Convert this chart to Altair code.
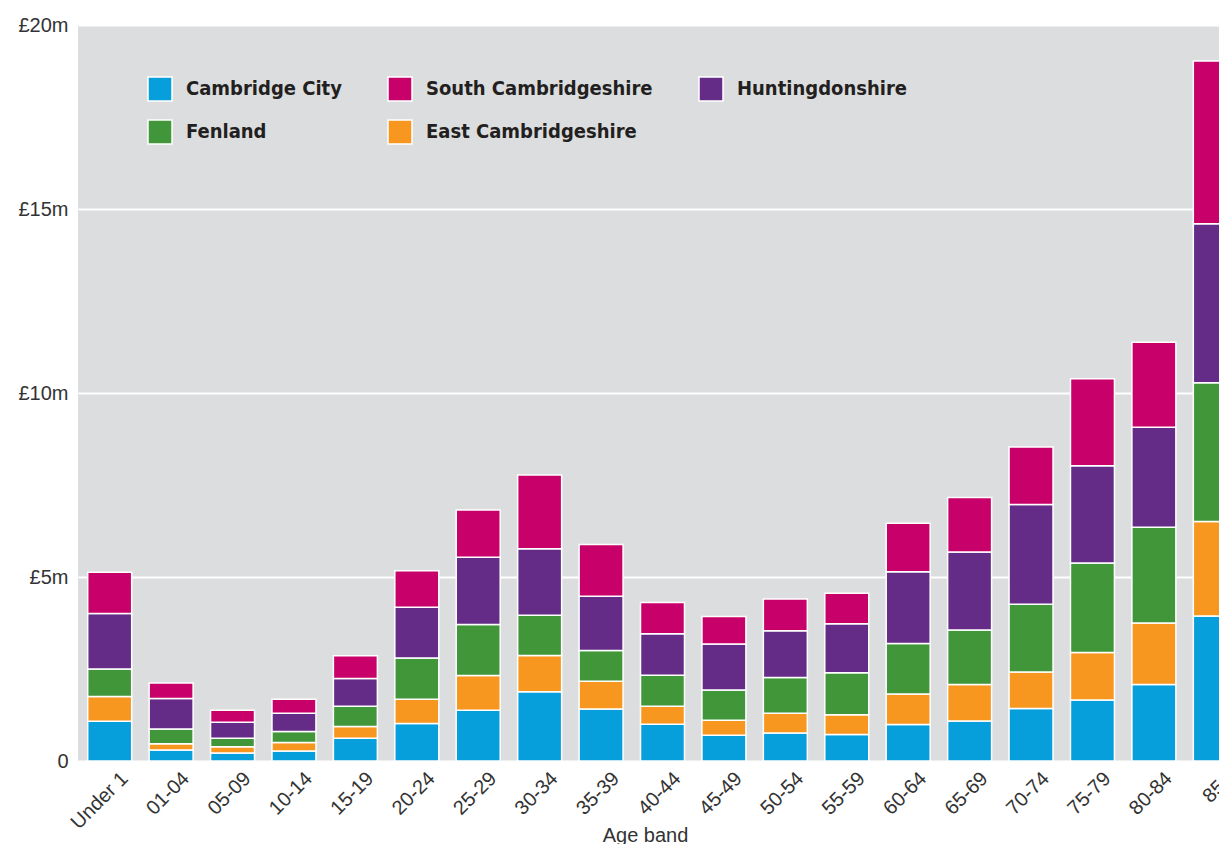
import altair as alt
import pandas as pd

age_bands = ["Under 1", "01-04", "05-09", "10-14", "15-19", "20-24", "25-29", "30-34",
             "35-39", "40-44", "45-49", "50-54", "55-59", "60-64", "65-69", "70-74",
             "75-79", "80-84", "85+"]

# values in £ million
cambridge_city = [1.08, 0.30, 0.22, 0.27, 0.62, 1.02, 1.38, 1.88, 1.41, 1.00, 0.70, 0.76, 0.72, 0.99, 1.09, 1.43, 1.66, 2.08, 3.94]
east_cambridgeshire = [0.67, 0.17, 0.17, 0.23, 0.32, 0.66, 0.94, 0.99, 0.76, 0.49, 0.41, 0.54, 0.54, 0.83, 0.99, 0.99, 1.29, 1.67, 2.57]
fenland = [0.75, 0.40, 0.23, 0.30, 0.55, 1.12, 1.39, 1.09, 0.83, 0.84, 0.82, 0.97, 1.14, 1.37, 1.48, 1.84, 2.43, 2.60, 3.77]
huntingdonshire = [1.51, 0.83, 0.43, 0.50, 0.75, 1.38, 1.83, 1.81, 1.48, 1.13, 1.25, 1.27, 1.33, 1.95, 2.12, 2.71, 2.64, 2.72, 4.32]
south_cambridgeshire = [1.12, 0.42, 0.33, 0.38, 0.62, 0.99, 1.28, 2.00, 1.40, 0.85, 0.75, 0.86, 0.83, 1.32, 1.48, 1.56, 2.37, 2.31, 4.42]

series = [
    ("Cambridge City", cambridge_city),
    ("East Cambridgeshire", east_cambridgeshire),
    ("Fenland", fenland),
    ("Huntingdonshire", huntingdonshire),
    ("South Cambridgeshire", south_cambridgeshire),
]

legend_order = ["Cambridge City", "South Cambridgeshire", "Huntingdonshire", "Fenland", "East Cambridgeshire"]
legend_colors = ["#069fdb", "#c8006a", "#642c87", "#41963a", "#f7971f"]

rows = []
for stack_i, (name, vals) in enumerate(series):
    for band, v in zip(age_bands, vals):
        rows.append({"age": band, "district": name, "value": v, "stack_order": stack_i})
df = pd.DataFrame(rows)

tick_font = "Liberation Sans, Arial, sans-serif"
legend_font = "Liberation Sans Narrow, DejaVu Sans Condensed, sans-serif"

chart = alt.Chart(df).mark_bar(stroke="white", strokeWidth=1.5).encode(
    x=alt.X("age:N", sort=age_bands,
            scale=alt.Scale(paddingInner=0.284, paddingOuter=0.158, range=[0, 1169]),
            axis=alt.Axis(title="Age band", labelAngle=-45, labelAlign="right",
                          labelBaseline="top", labelPadding=7, labelOffset=8,
                          labelFontSize=20, labelFont=tick_font, labelColor="#333333",
                          domain=False, ticks=False, grid=False,
                          titleFontSize=20, titleFont=tick_font, titleFontWeight="normal",
                          titleColor="#333333", titleX=567, titleY=80,
                          titleBaseline="alphabetic")),
    y=alt.Y("value:Q", stack="zero",
            scale=alt.Scale(domain=[0, 20], nice=False),
            axis=alt.Axis(title=None, values=[0, 5, 10, 15, 20],
                          labelExpr="datum.value == 0 ? '0' : '£' + datum.value + 'm'",
                          labelFontSize=20, labelFont=tick_font, labelColor="#333333",
                          labelPadding=10, domain=False, ticks=False,
                          gridColor="white", gridWidth=2, gridOpacity=1)),
    color=alt.Color("district:N",
                    scale=alt.Scale(domain=legend_order, range=legend_colors),
                    legend=alt.Legend(title=None, orient="none", legendX=69, legendY=51,
                                      direction="horizontal", columns=3,
                                      symbolType="square", symbolSize=576,
                                      symbolStrokeColor="white", symbolStrokeWidth=1.5,
                                      symbolOpacity=1,
                                      labelFont=legend_font, labelFontSize=20,
                                      labelFontWeight="bold", labelColor="#231f20",
                                      labelOffset=13, columnPadding=43, rowPadding=13,
                                      labelLimit=400)),
    order=alt.Order("stack_order:Q", sort="ascending"),
).properties(
    width=1141, height=736,
    autosize=alt.AutoSizeParams(type="none"),
    padding={"left": 70, "top": 17, "right": 0, "bottom": 83},
).configure_view(
    fill="#dcdddf", stroke=None
)

chart.save("out.html", embed_options={"renderer": "svg", "actions": False})
